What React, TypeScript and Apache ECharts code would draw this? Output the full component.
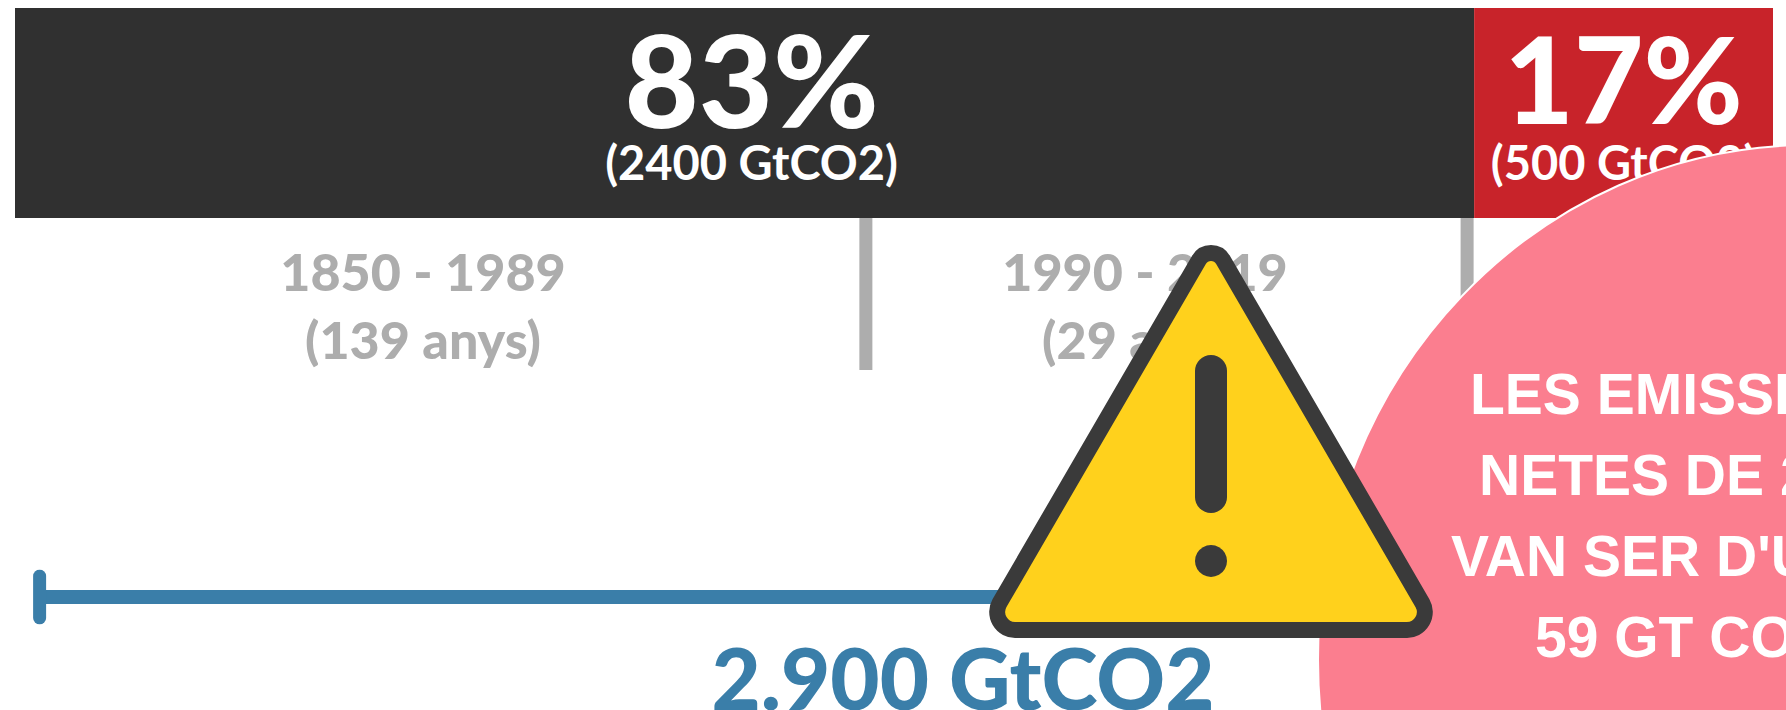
import React, { useEffect, useRef } from "react";
import * as echarts from "echarts";

const shareNames = ["1850 - 1989", "1990 - 2019"];
const shareValues = [83, 17];
const sharePercents = ["83%", "17%"];
const shareUnits = ["(2400 GtCO2)", "(500 GtCO2)"];
const shareColors = ["#303030", "#c8232a"];
const axisMax = 100;
const periodTicks = [48.4, 82.6];
const scaleStart = 1.4;
const scaleEnd = 70;
const periodLabels = [
  { x: 423, y1: 271, y2: 339, l1: "1850 - 1989", l2: "(139 anys)" },
  { x: 1145, y1: 271, y2: 339, l1: "1990 - 2019", l2: "(29 anys)" },
];
const totalLabel = "2.900 GtCO2";
const noteLines = [
  { x: 1470, text: "LES EMISSIONS" },
  { x: 1479, text: "NETES DE 2019" },
  { x: 1451, text: "VAN SER D'UNES" },
  { x: 1535, text: "59 GT CO2" },
];

const FONT = "Lato";
const triangle =
  "M1198.9 259.9 A14 14 0 0 1 1223.1 259.9 L1422.5 603.2 A18 18 0 0 1 1407 630 L1015 630 A18 18 0 0 1 999.5 603.2 Z";
echarts.graphic.registerShape("warnTriangle", echarts.graphic.extendPath(triangle as any, {}) as any);

export default function App() {
  const ref = useRef<HTMLDivElement>(null);
  useEffect(() => {
    document.body.style.margin = "0";
    document.body.style.overflow = "hidden";
    const chart = echarts.init(ref.current!, undefined, { renderer: "svg" });
    const xAxisBase = { type: "value", min: 0, max: axisMax, show: false };
    const yUnit = { type: "value", min: 0, max: 1, show: false };
    const grids = [
      { left: 15, width: 1758, top: 8, height: 210 },
      { left: 15, width: 1758, top: 218, height: 152 },
      { left: 15, width: 1758, top: 576, height: 42 },
    ];
    chart.setOption({
      animation: false,
      backgroundColor: "#ffffff",
      grid: grids,
      xAxis: [
        { ...xAxisBase, gridIndex: 0 },
        { ...xAxisBase, gridIndex: 1 },
        { ...xAxisBase, gridIndex: 2 },
      ],
      yAxis: [
        { type: "category", data: ["GtCO2"], show: false, gridIndex: 0 },
        { ...yUnit, gridIndex: 1 },
        { ...yUnit, gridIndex: 2 },
      ],
      series: [
        ...shareValues.map((v, i) => ({
          type: "bar",
          name: shareNames[i],
          stack: "total",
          xAxisIndex: 0,
          yAxisIndex: 0,
          barWidth: "100%",
          itemStyle: { color: shareColors[i] },
          data: [v],
          label: {
            show: true,
            position: "inside",
            offset: [i === 0 ? 7 : 0, -10],
            formatter: `{a|${sharePercents[i]}}\n{b|${shareUnits[i]}}`,
            rich: {
              a: { fontFamily: FONT, fontWeight: 900, fontSize: i === 0 ? 128 : 120, lineHeight: 118, color: "#fff", align: "center" },
              b: { fontFamily: FONT, fontWeight: 700, fontSize: 47, lineHeight: 50, color: "#fff", align: "center" },
            },
          },
        })),
        ...periodTicks.map((t) => ({
          type: "line",
          xAxisIndex: 1,
          yAxisIndex: 1,
          showSymbol: false,
          lineStyle: { color: "#adadad", width: 13 },
          data: [[t, 0], [t, 1]],
        })),
        {
          type: "line",
          xAxisIndex: 2,
          yAxisIndex: 2,
          showSymbol: false,
          lineStyle: { color: "#3a7ea9", width: 14 },
          data: [[scaleStart, 0.5], [scaleEnd, 0.5]],
        },
        {
          type: "line",
          xAxisIndex: 2,
          yAxisIndex: 2,
          showSymbol: false,
          lineStyle: { color: "#3a7ea9", width: 13, cap: "round" },
          data: [[scaleStart, 0], [scaleStart, 1]],
        },
      ],
      graphic: [
        ...periodLabels.flatMap((p) => [
          { type: "text", z: 5, x: p.x, y: p.y1, style: { text: p.l1, fontFamily: FONT, fontWeight: 900, fontSize: 52, fill: "#adadad", align: "center", verticalAlign: "middle" } },
          { type: "text", z: 5, x: p.x, y: p.y2, style: { text: p.l2, fontFamily: FONT, fontWeight: 900, fontSize: 52, fill: "#adadad", align: "center", verticalAlign: "middle" } },
        ]),
        { type: "text", z: 5, x: 963, y: 677, style: { text: totalLabel, fontFamily: FONT, fontWeight: 900, fontSize: 85, fill: "#3a7ea9", align: "center", verticalAlign: "middle" } },
        { type: "ellipse", z: 20, shape: { cx: 1810, cy: 660, rx: 492, ry: 515 }, style: { fill: "#fb7e8f", stroke: "#ffffff", lineWidth: 2 } },
        ...noteLines.map((n, i) => ({
          type: "text", z: 25, x: n.x, y: 394 + i * 81,
          style: { text: n.text, fontFamily: "Liberation Sans", fontWeight: 700, fontSize: 57, fill: "#ffffff", align: "left", verticalAlign: "middle" },
        })),
        { type: "warnTriangle", z: 30, x: 0, y: 0, style: { fill: "#ffd11c", stroke: "#3a3a3a", lineWidth: 16, lineJoin: "round" } },
        { type: "rect", z: 31, shape: { x: 1195, y: 355, width: 32, height: 158, r: 16 }, style: { fill: "#3a3a3a" } },
        { type: "circle", z: 31, shape: { cx: 1211, cy: 561, r: 16 }, style: { fill: "#3a3a3a" } },
      ],
    });
    return () => chart.dispose();
  }, []);
  return <div ref={ref} style={{ position: "absolute", left: 0, top: 0, width: 1786, height: 710, overflow: "hidden" }} />;
}
